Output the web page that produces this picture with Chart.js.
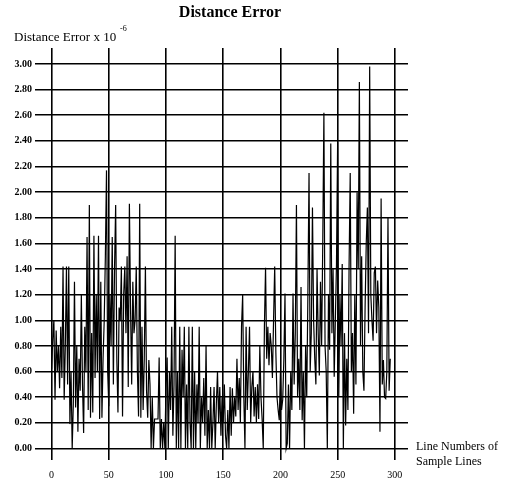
<!DOCTYPE html>
<html>
<head>
<meta charset="utf-8">
<script src="https://cdn.jsdelivr.net/npm/chart.js@4/dist/chart.umd.min.js"></script>
<style>
  html, body { margin: 0; padding: 0; background: #fff; }
  #wrap { width: 507px; height: 485px; }
</style>
</head>
<body>
<div id="wrap"><canvas id="dist-chart" width="507" height="485"></canvas></div>
<script>
"use strict";

// distance error per sample line (x 10^-6)
const distanceError = [
	0.62, 0.85, 1.00, 0.38, 0.92, 0.60, 0.80, 0.47, 0.95, 0.55,
	1.42, 0.38, 0.80, 1.42, 0.50, 1.42, 0.19, 0.60, 0.00, 0.35,
	1.30, 0.32, 0.80, 0.13, 0.70, 0.45, 1.20, 0.50, 0.12, 0.95,
	0.60, 1.65, 0.30, 1.90, 0.24, 0.90, 0.28, 1.66, 0.55, 1.20,
	0.60, 1.66, 0.23, 1.30, 0.24, 0.70, 1.00, 1.50, 2.17, 0.60,
	0.33, 1.20, 0.80, 1.65, 0.50, 1.40, 1.90, 0.70, 0.28, 1.10,
	1.00, 1.42, 0.25, 1.20, 1.42, 0.90, 1.50, 0.48, 1.91, 1.10,
	0.50, 1.30, 0.90, 1.00, 1.42, 0.60, 0.25, 1.91, 0.24, 0.95,
	0.30, 0.70, 1.42, 0.45, 0.24, 0.69, 0.50, 0.00, 0.40, 0.00,
	0.23, 0.23, 0.23, 0.23, 0.71, 0.00, 0.23, 0.00, 0.20, 0.00,
	0.50, 0.71, 0.00, 0.60, 0.30, 0.95, 0.10, 0.50, 1.66, 0.00,
	0.60, 0.00, 0.95, 0.00, 0.77, 0.40, 0.95, 0.00, 0.50, 0.00,
	0.95, 0.20, 0.00, 0.95, 0.00, 0.60, 0.00, 0.50, 0.20, 0.95,
	0.00, 0.40, 0.20, 0.55, 0.10, 0.80, 0.00, 0.30, 0.00, 0.48,
	0.00, 0.20, 0.48, 0.00, 0.35, 0.60, 0.20, 0.48, 0.10, 0.40,
	0.20, 0.50, 0.10, 0.00, 0.30, 0.00, 0.48, 0.10, 0.47, 0.20,
	0.40, 0.25, 0.70, 0.30, 0.55, 0.20, 0.95, 1.20, 0.40, 0.00,
	0.95, 0.30, 0.60, 0.95, 0.20, 0.48, 0.60, 0.25, 0.48, 0.20,
	0.50, 0.23, 0.80, 0.40, 0.23, 0.00, 0.95, 1.41, 0.70, 0.95,
	0.65, 0.90, 0.80, 0.55, 1.00, 1.42, 0.75, 0.40, 0.30, 0.22,
	0.60, 0.30, 0.38, 0.70, 1.21, 0.00, 0.04, 0.50, 0.00, 0.60,
	0.30, 1.21, 0.50, 0.90, 1.90, 0.40, 0.70, 0.30, 1.26, 0.22,
	0.60, 0.00, 0.80, 0.40, 1.20, 2.15, 0.60, 0.90, 1.88, 1.00,
	0.70, 0.50, 1.40, 0.90, 0.57, 1.30, 0.80, 1.60, 2.62, 0.80,
	0.60, 0.00, 1.20, 0.77, 2.38, 0.90, 1.40, 0.56, 1.00, 1.44,
	2.39, 0.40, 1.20, 0.80, 1.44, 0.00, 0.90, 0.18, 0.70, 0.30,
	1.42, 2.15, 0.60, 0.90, 0.27, 1.20, 0.50, 2.00, 1.40, 2.86,
	0.80, 1.50, 0.60, 0.45, 1.10, 1.60, 1.88, 0.90, 2.98, 1.20,
	1.00, 0.84, 1.37, 1.42, 0.90, 1.31, 1.10, 0.13, 1.95, 0.50,
	0.69, 0.40, 0.39, 0.60, 1.80, 0.45, 0.70
];

const xTicks = [0, 50, 100, 150, 200, 250, 300];
const yTicks = [0.0, 0.2, 0.4, 0.6, 0.8, 1.0, 1.2, 1.4, 1.6, 1.8, 2.0, 2.2, 2.4, 2.6, 2.8, 3.0];

const serif = "'Liberation Serif', 'DejaVu Serif', serif";

// title and axis captions, drawn the way the old plot had them
const captions = {
	id: 'captions',
	afterDraw(chart) {
		const ctx = chart.ctx;
		ctx.save();
		ctx.fillStyle = '#000';
		ctx.textBaseline = 'middle';

		ctx.font = 'bold 16px ' + serif;
		ctx.textAlign = 'center';
		ctx.fillText('Distance Error', 230, 13);

		ctx.textAlign = 'left';
		ctx.font = '13px ' + serif;
		ctx.fillText('Distance Error x 10', 14, 38);
		ctx.font = '8px ' + serif;
		ctx.fillText('-6', 120, 29);

		ctx.font = '12px ' + serif;
		ctx.fillText('Line Numbers of', 416, 447);
		ctx.fillText('Sample Lines', 416, 462);
		ctx.restore();
	}
};

const ctx = document.querySelector('#dist-chart').getContext('2d');
new Chart(ctx, {
	type: 'line',
	data: {
		datasets: [{
			data: distanceError.map((v, i) => ({ x: i, y: v })),
			borderColor: '#000',
			borderWidth: 1.2,
			pointRadius: 0,
			tension: 0,
			fill: false
		}]
	},
	options: {
		responsive: false,
		animation: false,
		layout: { padding: { top: 48, right: 99, left: 0, bottom: 0 } },
		plugins: {
			legend: { display: false },
			tooltip: { enabled: false }
		},
		scales: {
			x: {
				type: 'linear',
				min: -14.5,
				max: 311.5,
				afterBuildTicks: (axis) => { axis.ticks = xTicks.map(v => ({ value: v })); },
				afterFit: (axis) => { axis.height = 25; },
				grid: { color: '#000', lineWidth: 1.6, drawTicks: false },
				border: { display: false },
				ticks: {
					padding: 9,
					color: '#000',
					maxRotation: 0,
					font: { family: serif, size: 10 }
				}
			},
			y: {
				min: -0.09,
				max: 3.125,
				afterBuildTicks: (axis) => { axis.ticks = yTicks.map(v => ({ value: v })); },
				afterFit: (axis) => { axis.width = 35; },
				grid: { color: '#000', lineWidth: 1.6, drawTicks: false },
				border: { display: false },
				ticks: {
					padding: 3,
					color: '#000',
					font: { family: serif, size: 10, weight: 'bold' },
					callback: (v) => v.toFixed(2)
				}
			}
		}
	},
	plugins: [captions]
});
</script>
</body>
</html>
